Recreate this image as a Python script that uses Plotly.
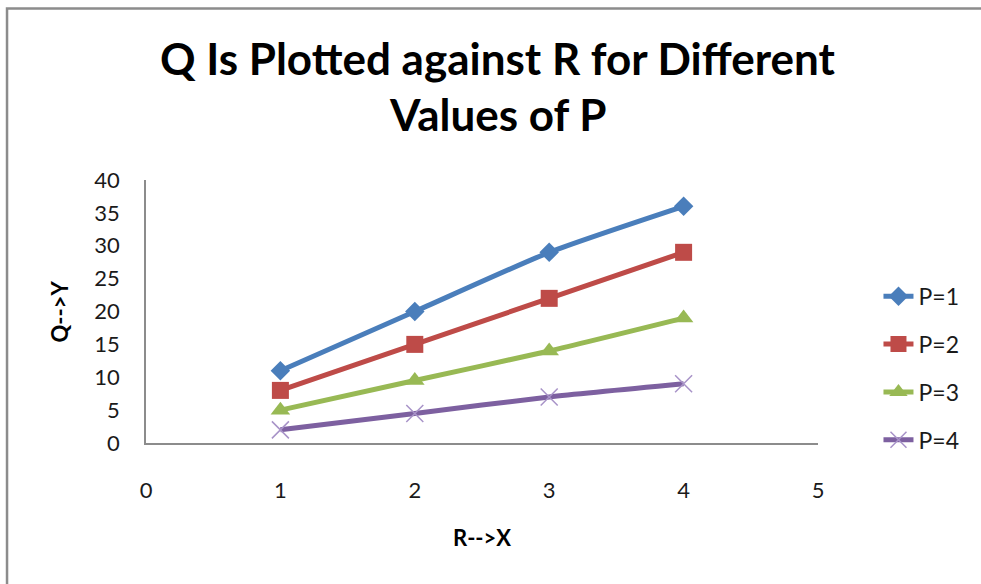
import plotly.graph_objects as go

# Data: Q plotted against R for four values of P
r_values = [1, 2, 3, 4]
q_p1 = [11, 20, 29, 36]
q_p2 = [8, 15, 22, 29]
q_p3 = [5, 9.5, 14, 19]
q_p4 = [2, 4.5, 7, 9]
series_names = ["P=1", "P=2", "P=3", "P=4"]
x_ticks = [0, 1, 2, 3, 4, 5]
y_ticks = [0, 5, 10, 15, 20, 25, 30, 35, 40]
title_lines = ["Q Is Plotted against R for Different", "Values of P"]

FONT = "Lato, 'Open Sans', sans-serif"

styles = [
    dict(color="#4A7EBB", symbol="diamond", size=15, mline="#4A7EBB", mwidth=0),
    dict(color="#BE4B48", symbol="square", size=17, mline="#BE4B48", mwidth=0),
    dict(color="#98B954", symbol="triangle-up", size=17, mline="#98B954", mwidth=0),
    dict(color="#7D60A0", symbol="x-thin", size=17, mline="#A893C8", mwidth=1.5),
]

fig = go.Figure()
for name, ys, st in zip(series_names, [q_p1, q_p2, q_p3, q_p4], styles):
    fig.add_trace(go.Scatter(
        x=r_values, y=ys, name=name, legendgroup=name,
        mode="lines+markers",
        line=dict(color=st["color"], width=5, shape="spline", smoothing=0.6),
        marker=dict(symbol=st["symbol"], size=st["size"], color=st["color"],
                    line=dict(color=st["mline"], width=st["mwidth"])),
    ))

# Two-line bold title, placed line by line
title_annots = [
    dict(text=f"<b>{line}</b>", xref="paper", yref="paper",
         x=0.523, y=yy, xanchor="center", yanchor="middle", showarrow=False,
         font=dict(family=FONT, size=44, color="#000000"))
    for line, yy in zip(title_lines, [1.462, 1.25])
]

fig.update_layout(
    width=981, height=584,
    margin=dict(l=146, r=163, t=180, b=141),
    paper_bgcolor="white", plot_bgcolor="white",
    font=dict(family=FONT, size=22, color="#1a1a1a"),
    showlegend=True,
    legend=dict(
        x=1.09, xanchor="left", y=0.64, yanchor="top",
        font=dict(family=FONT, size=23, color="#1a1a1a"),
        tracegroupgap=15, bgcolor="rgba(0,0,0,0)",
    ),
    xaxis=dict(
        range=[0, 5], tickvals=x_ticks, showgrid=False, zeroline=False,
        showline=True, linecolor="#8c8c8c", linewidth=1.5,
        ticks="", ticklabelstandoff=27,
        tickfont=dict(family=FONT, size=22, color="#1a1a1a"),
    ),
    yaxis=dict(
        range=[0, 40], tickvals=y_ticks, showgrid=False, zeroline=False,
        showline=True, linecolor="#8c8c8c", linewidth=1.5,
        ticks="", ticklabelstandoff=20,
        tickfont=dict(family=FONT, size=22, color="#1a1a1a"),
    ),
    annotations=title_annots + [
        dict(text="<b>R-->X</b>", xref="paper", yref="paper",
             x=0.5, y=-0.361, xanchor="center", yanchor="middle",
             showarrow=False, font=dict(family=FONT, size=22, color="#000")),
        dict(text="<b>Q-->Y</b>", xref="paper", yref="paper",
             x=-0.128, y=0.5, xanchor="center", yanchor="middle",
             textangle=-90, showarrow=False,
             font=dict(family=FONT, size=22, color="#000")),
    ],
    shapes=[
        dict(type="rect", xref="paper", yref="paper",
             x0=-0.2068, x1=1.3, y0=-0.7, y1=1.652,
             line=dict(color="#8c8c8c", width=2.5), fillcolor="rgba(0,0,0,0)",
             layer="below"),
    ],
)

fig.write_html("out.html")
